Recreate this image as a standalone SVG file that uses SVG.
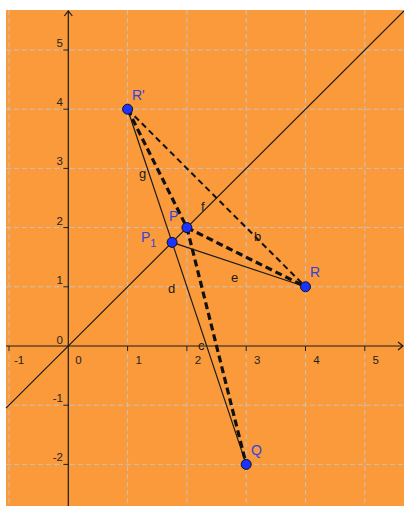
<svg xmlns="http://www.w3.org/2000/svg" width="404" height="506" viewBox="0 0 404 506">
<style>
.grid{stroke:#c8c2bc;stroke-width:1;stroke-dasharray:5 3;fill:none}
.axis{stroke:#1a1a1a;stroke-width:1.2;fill:none}
.tick{stroke:#1a1a1a;stroke-width:1}
.num{font-family:"Liberation Sans",Arial,sans-serif;font-size:11.5px;fill:#222}
.solid{stroke:#1a1a1a;stroke-width:1.2;fill:none}
.thin-dash{stroke:#111;stroke-width:2;stroke-dasharray:6 4;fill:none}
.thick-dash{stroke:#111;stroke-width:3.2;stroke-dasharray:7 4;fill:none}
.pt{fill:#1a33ff;stroke:#111;stroke-width:1}
.plabel{font-family:"Liberation Sans",Arial,sans-serif;font-size:14px;fill:#3344dd}
.slabel{font-family:"Liberation Sans",Arial,sans-serif;font-size:13px;fill:#1a1a1a}
</style>
<rect x="0" y="0" width="404" height="506" fill="#ffffff"/>
<rect x="6" y="10" width="398" height="496" fill="#fa9a3a"/>
<g id="grid">
<line class="grid" x1="9" y1="10" x2="9" y2="506"/>
<line class="grid" x1="127.6" y1="10" x2="127.6" y2="506"/>
<line class="grid" x1="186.9" y1="10" x2="186.9" y2="506"/>
<line class="grid" x1="246.2" y1="10" x2="246.2" y2="506"/>
<line class="grid" x1="305.5" y1="10" x2="305.5" y2="506"/>
<line class="grid" x1="364.8" y1="10" x2="364.8" y2="506"/>
<line class="grid" x1="6" y1="50" x2="404" y2="50"/>
<line class="grid" x1="6" y1="109.2" x2="404" y2="109.2"/>
<line class="grid" x1="6" y1="168.4" x2="404" y2="168.4"/>
<line class="grid" x1="6" y1="227.6" x2="404" y2="227.6"/>
<line class="grid" x1="6" y1="286.8" x2="404" y2="286.8"/>
<line class="grid" x1="6" y1="405.2" x2="404" y2="405.2"/>
<line class="grid" x1="6" y1="464.4" x2="404" y2="464.4"/>
</g>
<g id="axes">
<line class="axis" x1="6" y1="346" x2="403" y2="346"/>
<polyline class="axis" points="398,342 403,346 398,350"/>
<line class="axis" x1="68.3" y1="506" x2="68.3" y2="11"/>
<polyline class="axis" points="64.3,16 68.3,11 72.3,16"/>
<line class="tick" x1="9" y1="346" x2="9" y2="351"/>
<line class="tick" x1="127.6" y1="346" x2="127.6" y2="351"/>
<line class="tick" x1="186.9" y1="346" x2="186.9" y2="351"/>
<line class="tick" x1="246.2" y1="346" x2="246.2" y2="351"/>
<line class="tick" x1="305.5" y1="346" x2="305.5" y2="351"/>
<line class="tick" x1="364.8" y1="346" x2="364.8" y2="351"/>
<line class="tick" x1="63.3" y1="50" x2="68.3" y2="50"/>
<line class="tick" x1="63.3" y1="109.2" x2="68.3" y2="109.2"/>
<line class="tick" x1="63.3" y1="168.4" x2="68.3" y2="168.4"/>
<line class="tick" x1="63.3" y1="227.6" x2="68.3" y2="227.6"/>
<line class="tick" x1="63.3" y1="286.8" x2="68.3" y2="286.8"/>
<line class="tick" x1="63.3" y1="405.2" x2="68.3" y2="405.2"/>
<line class="tick" x1="63.3" y1="464.4" x2="68.3" y2="464.4"/>
<g class="num" text-anchor="middle">
<text x="19" y="364">-1</text>
<text x="78.5" y="364">0</text>
<text x="138.6" y="364">1</text>
<text x="197.9" y="364">2</text>
<text x="257.2" y="364">3</text>
<text x="316.5" y="364">4</text>
<text x="375.8" y="364">5</text>
</g>
<g class="num" text-anchor="end">
<text x="63" y="47">5</text>
<text x="63" y="106.2">4</text>
<text x="63" y="165.4">3</text>
<text x="63" y="224.6">2</text>
<text x="63" y="283.8">1</text>
<text x="63" y="344">0</text>
<text x="63" y="402.2">-1</text>
<text x="63" y="461.4">-2</text>
</g>
</g>
<g id="connectors">
<line id="f" class="solid" x1="6" y1="408.2" x2="404" y2="10.9"/>
<line id="g" class="solid" x1="127.6" y1="109.2" x2="172.1" y2="242.4"/>
<line id="d" class="solid" x1="172.1" y1="242.4" x2="246.2" y2="464.4"/>
<line id="e" class="solid" x1="172.1" y1="242.4" x2="305.5" y2="286.8"/>
<line id="b" class="thin-dash" x1="127.6" y1="109.2" x2="305.5" y2="286.8"/>
<line class="thick-dash" x1="127.6" y1="109.2" x2="186.9" y2="227.6"/>
<line class="thick-dash" x1="186.9" y1="227.6" x2="305.5" y2="286.8"/>
<line id="c" class="thick-dash" x1="186.9" y1="227.6" x2="246.2" y2="464.4"/>
<text class="slabel" x="139" y="178">g</text>
<text class="slabel" x="201" y="211">f</text>
<text class="slabel" x="254" y="241">b</text>
<text class="slabel" x="231" y="282">e</text>
<text class="slabel" x="168" y="293">d</text>
<text class="slabel" x="198" y="350">c</text>
</g>
<g id="node-Rp">
<circle class="pt" cx="127.6" cy="109.2" r="5"/>
<text class="plabel" x="132" y="100">R'</text>
</g>
<g id="node-P">
<circle class="pt" cx="186.9" cy="227.6" r="5"/>
<text class="plabel" x="169" y="221">P</text>
</g>
<g id="node-P1">
<circle class="pt" cx="172.1" cy="242.4" r="5"/>
<text class="plabel" x="141" y="242">P<tspan font-size="11" dy="5">1</tspan></text>
</g>
<g id="node-R">
<circle class="pt" cx="305.5" cy="286.8" r="5"/>
<text class="plabel" x="310" y="277">R</text>
</g>
<g id="node-Q">
<circle class="pt" cx="246.2" cy="464.4" r="5"/>
<text class="plabel" x="251" y="455">Q</text>
</g>
</svg>
